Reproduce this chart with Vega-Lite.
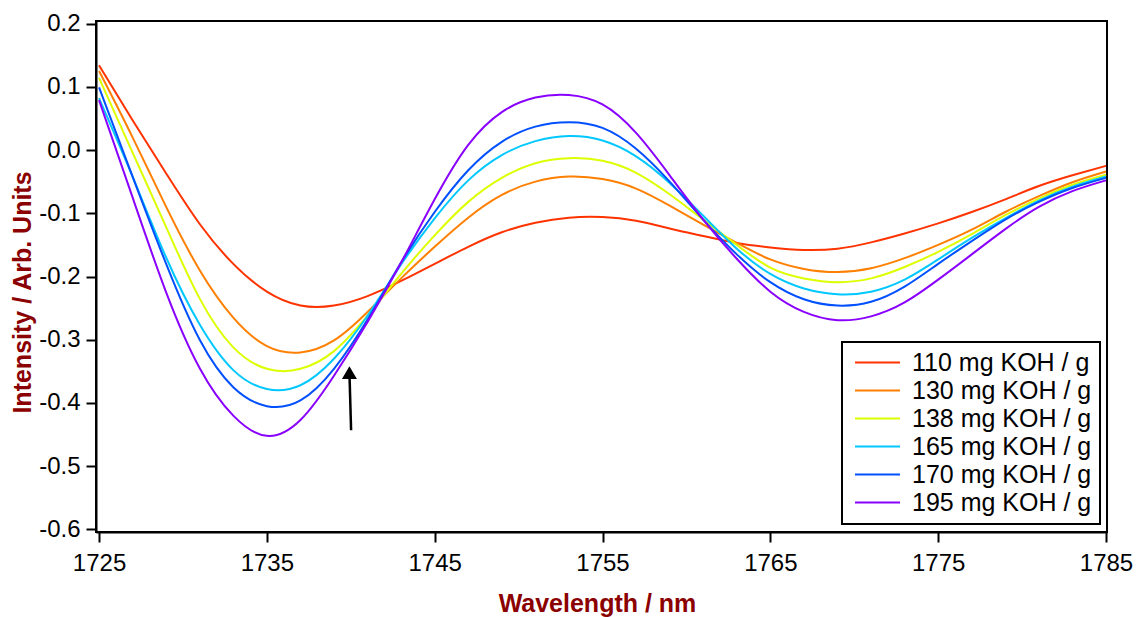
{
  "$schema": "https://vega.github.io/schema/vega-lite/v6.json",
  "autosize": {"type": "none"},
  "padding": {"left": 96, "top": 21, "right": 30, "bottom": 85},
  "width": 1011,
  "height": 511,
  "background": "white",
  "config": {
    "font": "Liberation Sans",
    "view": {"stroke": "black", "strokeWidth": 2},
    "axis": {
      "domainColor": "black", "domainWidth": 2, "tickColor": "black", "tickWidth": 2, "tickSize": 10,
      "labelFont": "Liberation Sans", "labelFontSize": 24, "labelColor": "black",
      "titleFont": "Liberation Sans", "titleFontSize": 25, "titleFontWeight": "bold", "titleColor": "#8B0000",
      "grid": false
    }
  },
  "datasets": {
    "spectra": [
      {"w":1725,"v":0.134,"s":"110 mg KOH / g"},{"w":1727,"v":0.047,"s":"110 mg KOH / g"},{"w":1729,"v":-0.037,"s":"110 mg KOH / g"},{"w":1731,"v":-0.117,"s":"110 mg KOH / g"},{"w":1733,"v":-0.180,"s":"110 mg KOH / g"},{"w":1735,"v":-0.224,"s":"110 mg KOH / g"},{"w":1737,"v":-0.246,"s":"110 mg KOH / g"},{"w":1739,"v":-0.246,"s":"110 mg KOH / g"},{"w":1741,"v":-0.231,"s":"110 mg KOH / g"},{"w":1743,"v":-0.207,"s":"110 mg KOH / g"},{"w":1745,"v":-0.180,"s":"110 mg KOH / g"},{"w":1747,"v":-0.153,"s":"110 mg KOH / g"},{"w":1749,"v":-0.130,"s":"110 mg KOH / g"},{"w":1751,"v":-0.115,"s":"110 mg KOH / g"},{"w":1753,"v":-0.107,"s":"110 mg KOH / g"},{"w":1755,"v":-0.106,"s":"110 mg KOH / g"},{"w":1757,"v":-0.112,"s":"110 mg KOH / g"},{"w":1759,"v":-0.124,"s":"110 mg KOH / g"},{"w":1761,"v":-0.136,"s":"110 mg KOH / g"},{"w":1763,"v":-0.147,"s":"110 mg KOH / g"},{"w":1765,"v":-0.154,"s":"110 mg KOH / g"},{"w":1767,"v":-0.158,"s":"110 mg KOH / g"},{"w":1769,"v":-0.156,"s":"110 mg KOH / g"},{"w":1771,"v":-0.146,"s":"110 mg KOH / g"},{"w":1773,"v":-0.132,"s":"110 mg KOH / g"},{"w":1775,"v":-0.116,"s":"110 mg KOH / g"},{"w":1777,"v":-0.098,"s":"110 mg KOH / g"},{"w":1779,"v":-0.078,"s":"110 mg KOH / g"},{"w":1781,"v":-0.057,"s":"110 mg KOH / g"},{"w":1783,"v":-0.040,"s":"110 mg KOH / g"},{"w":1785,"v":-0.025,"s":"110 mg KOH / g"},

      {"w":1725,"v":0.125,"s":"130 mg KOH / g"},{"w":1727,"v":0.020,"s":"130 mg KOH / g"},{"w":1729,"v":-0.090,"s":"130 mg KOH / g"},{"w":1731,"v":-0.190,"s":"130 mg KOH / g"},{"w":1733,"v":-0.265,"s":"130 mg KOH / g"},{"w":1735,"v":-0.310,"s":"130 mg KOH / g"},{"w":1737,"v":-0.320,"s":"130 mg KOH / g"},{"w":1739,"v":-0.301,"s":"130 mg KOH / g"},{"w":1741,"v":-0.256,"s":"130 mg KOH / g"},{"w":1743,"v":-0.203,"s":"130 mg KOH / g"},{"w":1745,"v":-0.153,"s":"130 mg KOH / g"},{"w":1747,"v":-0.107,"s":"130 mg KOH / g"},{"w":1749,"v":-0.071,"s":"130 mg KOH / g"},{"w":1751,"v":-0.050,"s":"130 mg KOH / g"},{"w":1753,"v":-0.042,"s":"130 mg KOH / g"},{"w":1755,"v":-0.046,"s":"130 mg KOH / g"},{"w":1757,"v":-0.061,"s":"130 mg KOH / g"},{"w":1759,"v":-0.088,"s":"130 mg KOH / g"},{"w":1761,"v":-0.118,"s":"130 mg KOH / g"},{"w":1763,"v":-0.147,"s":"130 mg KOH / g"},{"w":1765,"v":-0.173,"s":"130 mg KOH / g"},{"w":1767,"v":-0.188,"s":"130 mg KOH / g"},{"w":1769,"v":-0.193,"s":"130 mg KOH / g"},{"w":1771,"v":-0.187,"s":"130 mg KOH / g"},{"w":1773,"v":-0.171,"s":"130 mg KOH / g"},{"w":1775,"v":-0.150,"s":"130 mg KOH / g"},{"w":1777,"v":-0.126,"s":"130 mg KOH / g"},{"w":1779,"v":-0.098,"s":"130 mg KOH / g"},{"w":1781,"v":-0.073,"s":"130 mg KOH / g"},{"w":1783,"v":-0.051,"s":"130 mg KOH / g"},{"w":1785,"v":-0.034,"s":"130 mg KOH / g"},

      {"w":1725,"v":0.114,"s":"138 mg KOH / g"},{"w":1727,"v":-0.004,"s":"138 mg KOH / g"},{"w":1729,"v":-0.122,"s":"138 mg KOH / g"},{"w":1731,"v":-0.235,"s":"138 mg KOH / g"},{"w":1733,"v":-0.312,"s":"138 mg KOH / g"},{"w":1735,"v":-0.346,"s":"138 mg KOH / g"},{"w":1737,"v":-0.346,"s":"138 mg KOH / g"},{"w":1739,"v":-0.318,"s":"138 mg KOH / g"},{"w":1741,"v":-0.262,"s":"138 mg KOH / g"},{"w":1743,"v":-0.196,"s":"138 mg KOH / g"},{"w":1745,"v":-0.135,"s":"138 mg KOH / g"},{"w":1747,"v":-0.082,"s":"138 mg KOH / g"},{"w":1749,"v":-0.044,"s":"138 mg KOH / g"},{"w":1751,"v":-0.021,"s":"138 mg KOH / g"},{"w":1753,"v":-0.013,"s":"138 mg KOH / g"},{"w":1755,"v":-0.017,"s":"138 mg KOH / g"},{"w":1757,"v":-0.036,"s":"138 mg KOH / g"},{"w":1759,"v":-0.070,"s":"138 mg KOH / g"},{"w":1761,"v":-0.110,"s":"138 mg KOH / g"},{"w":1763,"v":-0.150,"s":"138 mg KOH / g"},{"w":1765,"v":-0.186,"s":"138 mg KOH / g"},{"w":1767,"v":-0.203,"s":"138 mg KOH / g"},{"w":1769,"v":-0.209,"s":"138 mg KOH / g"},{"w":1771,"v":-0.203,"s":"138 mg KOH / g"},{"w":1773,"v":-0.185,"s":"138 mg KOH / g"},{"w":1775,"v":-0.161,"s":"138 mg KOH / g"},{"w":1777,"v":-0.133,"s":"138 mg KOH / g"},{"w":1779,"v":-0.103,"s":"138 mg KOH / g"},{"w":1781,"v":-0.077,"s":"138 mg KOH / g"},{"w":1783,"v":-0.055,"s":"138 mg KOH / g"},{"w":1785,"v":-0.039,"s":"138 mg KOH / g"},

      {"w":1725,"v":0.082,"s":"165 mg KOH / g"},{"w":1727,"v":-0.042,"s":"165 mg KOH / g"},{"w":1729,"v":-0.170,"s":"165 mg KOH / g"},{"w":1731,"v":-0.276,"s":"165 mg KOH / g"},{"w":1733,"v":-0.348,"s":"165 mg KOH / g"},{"w":1735,"v":-0.378,"s":"165 mg KOH / g"},{"w":1737,"v":-0.372,"s":"165 mg KOH / g"},{"w":1739,"v":-0.330,"s":"165 mg KOH / g"},{"w":1741,"v":-0.262,"s":"165 mg KOH / g"},{"w":1743,"v":-0.181,"s":"165 mg KOH / g"},{"w":1745,"v":-0.108,"s":"165 mg KOH / g"},{"w":1747,"v":-0.048,"s":"165 mg KOH / g"},{"w":1749,"v":-0.008,"s":"165 mg KOH / g"},{"w":1751,"v":0.014,"s":"165 mg KOH / g"},{"w":1753,"v":0.022,"s":"165 mg KOH / g"},{"w":1755,"v":0.015,"s":"165 mg KOH / g"},{"w":1757,"v":-0.010,"s":"165 mg KOH / g"},{"w":1759,"v":-0.052,"s":"165 mg KOH / g"},{"w":1761,"v":-0.104,"s":"165 mg KOH / g"},{"w":1763,"v":-0.156,"s":"165 mg KOH / g"},{"w":1765,"v":-0.196,"s":"165 mg KOH / g"},{"w":1767,"v":-0.219,"s":"165 mg KOH / g"},{"w":1769,"v":-0.228,"s":"165 mg KOH / g"},{"w":1771,"v":-0.224,"s":"165 mg KOH / g"},{"w":1773,"v":-0.205,"s":"165 mg KOH / g"},{"w":1775,"v":-0.173,"s":"165 mg KOH / g"},{"w":1777,"v":-0.139,"s":"165 mg KOH / g"},{"w":1779,"v":-0.108,"s":"165 mg KOH / g"},{"w":1781,"v":-0.080,"s":"165 mg KOH / g"},{"w":1783,"v":-0.058,"s":"165 mg KOH / g"},{"w":1785,"v":-0.042,"s":"165 mg KOH / g"},

      {"w":1725,"v":0.099,"s":"170 mg KOH / g"},{"w":1727,"v":-0.042,"s":"170 mg KOH / g"},{"w":1729,"v":-0.180,"s":"170 mg KOH / g"},{"w":1731,"v":-0.300,"s":"170 mg KOH / g"},{"w":1733,"v":-0.375,"s":"170 mg KOH / g"},{"w":1735,"v":-0.405,"s":"170 mg KOH / g"},{"w":1737,"v":-0.396,"s":"170 mg KOH / g"},{"w":1739,"v":-0.346,"s":"170 mg KOH / g"},{"w":1741,"v":-0.268,"s":"170 mg KOH / g"},{"w":1743,"v":-0.178,"s":"170 mg KOH / g"},{"w":1745,"v":-0.098,"s":"170 mg KOH / g"},{"w":1747,"v":-0.032,"s":"170 mg KOH / g"},{"w":1749,"v":0.013,"s":"170 mg KOH / g"},{"w":1751,"v":0.037,"s":"170 mg KOH / g"},{"w":1753,"v":0.044,"s":"170 mg KOH / g"},{"w":1755,"v":0.035,"s":"170 mg KOH / g"},{"w":1757,"v":0.002,"s":"170 mg KOH / g"},{"w":1759,"v":-0.050,"s":"170 mg KOH / g"},{"w":1761,"v":-0.110,"s":"170 mg KOH / g"},{"w":1763,"v":-0.165,"s":"170 mg KOH / g"},{"w":1765,"v":-0.209,"s":"170 mg KOH / g"},{"w":1767,"v":-0.236,"s":"170 mg KOH / g"},{"w":1769,"v":-0.246,"s":"170 mg KOH / g"},{"w":1771,"v":-0.240,"s":"170 mg KOH / g"},{"w":1773,"v":-0.216,"s":"170 mg KOH / g"},{"w":1775,"v":-0.180,"s":"170 mg KOH / g"},{"w":1777,"v":-0.144,"s":"170 mg KOH / g"},{"w":1779,"v":-0.110,"s":"170 mg KOH / g"},{"w":1781,"v":-0.082,"s":"170 mg KOH / g"},{"w":1783,"v":-0.060,"s":"170 mg KOH / g"},{"w":1785,"v":-0.044,"s":"170 mg KOH / g"},

      {"w":1725,"v":0.079,"s":"195 mg KOH / g"},{"w":1727,"v":-0.075,"s":"195 mg KOH / g"},{"w":1729,"v":-0.225,"s":"195 mg KOH / g"},{"w":1731,"v":-0.345,"s":"195 mg KOH / g"},{"w":1733,"v":-0.420,"s":"195 mg KOH / g"},{"w":1735,"v":-0.452,"s":"195 mg KOH / g"},{"w":1737,"v":-0.427,"s":"195 mg KOH / g"},{"w":1739,"v":-0.357,"s":"195 mg KOH / g"},{"w":1741,"v":-0.272,"s":"195 mg KOH / g"},{"w":1743,"v":-0.178,"s":"195 mg KOH / g"},{"w":1745,"v":-0.078,"s":"195 mg KOH / g"},{"w":1747,"v":0.008,"s":"195 mg KOH / g"},{"w":1749,"v":0.060,"s":"195 mg KOH / g"},{"w":1751,"v":0.083,"s":"195 mg KOH / g"},{"w":1753,"v":0.087,"s":"195 mg KOH / g"},{"w":1755,"v":0.072,"s":"195 mg KOH / g"},{"w":1757,"v":0.027,"s":"195 mg KOH / g"},{"w":1759,"v":-0.040,"s":"195 mg KOH / g"},{"w":1761,"v":-0.110,"s":"195 mg KOH / g"},{"w":1763,"v":-0.172,"s":"195 mg KOH / g"},{"w":1765,"v":-0.224,"s":"195 mg KOH / g"},{"w":1767,"v":-0.256,"s":"195 mg KOH / g"},{"w":1769,"v":-0.269,"s":"195 mg KOH / g"},{"w":1771,"v":-0.263,"s":"195 mg KOH / g"},{"w":1773,"v":-0.241,"s":"195 mg KOH / g"},{"w":1775,"v":-0.205,"s":"195 mg KOH / g"},{"w":1777,"v":-0.165,"s":"195 mg KOH / g"},{"w":1779,"v":-0.125,"s":"195 mg KOH / g"},{"w":1781,"v":-0.090,"s":"195 mg KOH / g"},{"w":1783,"v":-0.065,"s":"195 mg KOH / g"},{"w":1785,"v":-0.048,"s":"195 mg KOH / g"}
    ],
    "arrowShaft": [{"w":1740.02,"v":-0.443,"wend":1739.93,"vend":-0.36}],
    "arrowHead": [{"w":1739.92,"v":-0.352}]
  },
  "layer": [
    {
      "data": {"name": "spectra"},
      "mark": {"type": "line", "strokeWidth": 2, "interpolate": "natural"},
      "encoding": {
        "x": {"field": "w", "type": "quantitative",
          "scale": {"domain": [1724.82, 1785.06], "nice": false, "zero": false},
          "axis": {"values": [1725,1735,1745,1755,1765,1775,1785], "format": "d", "labelPadding": 9, "title": "Wavelength / nm", "titleX": 501, "titleY": 79, "titleBaseline": "alphabetic"}},
        "y": {"field": "v", "type": "quantitative",
          "scale": {"domain": [-0.604, 0.204], "nice": false, "zero": false},
          "axis": {"values": [-0.6,-0.5,-0.4,-0.3,-0.2,-0.1,0,0.1,0.2], "labelExpr": "replace(format(datum.value, '.1f'), '−', '-')", "labelPadding": 6, "title": "Intensity / Arb. Units", "titleX": -74, "titleY": 271, "titleAngle": -90, "titleBaseline": "middle", "titleAlign": "center"}},
        "color": {"field": "s", "type": "nominal",
          "scale": {"domain": ["110 mg KOH / g","130 mg KOH / g","138 mg KOH / g","165 mg KOH / g","170 mg KOH / g","195 mg KOH / g"],
                    "range": ["#FF3300","#FF7F00","#DDFF00","#00C8FF","#0050FF","#8A00FF"]},
          "legend": {"title": null, "orient": "none", "legendX": 746, "legendY": 321,
            "padding": 8, "strokeColor": "black", "fillColor": "white",
            "symbolType": "M-1,0H5", "symbolSize": 225, "symbolStrokeWidth": 2,
            "labelFont": "Liberation Sans", "labelFontSize": 25, "labelColor": "black", "labelOffset": 37, "labelLimit": 400,
            "rowPadding": 2,
            "encode": {"legend": {"update": {"strokeWidth": {"value": 2}}}}}}
      }
    },
    {
      "data": {"name": "arrowShaft"},
      "mark": {"type": "rule", "color": "black", "strokeWidth": 2.5},
      "encoding": {
        "x": {"field": "w", "type": "quantitative"},
        "y": {"field": "v", "type": "quantitative"},
        "x2": {"field": "wend"},
        "y2": {"field": "vend"}
      }
    },
    {
      "data": {"name": "arrowHead"},
      "mark": {"type": "point", "shape": "triangle-up", "filled": true, "color": "black", "size": 225, "opacity": 1},
      "encoding": {
        "x": {"field": "w", "type": "quantitative"},
        "y": {"field": "v", "type": "quantitative"}
      }
    }
  ]
}
